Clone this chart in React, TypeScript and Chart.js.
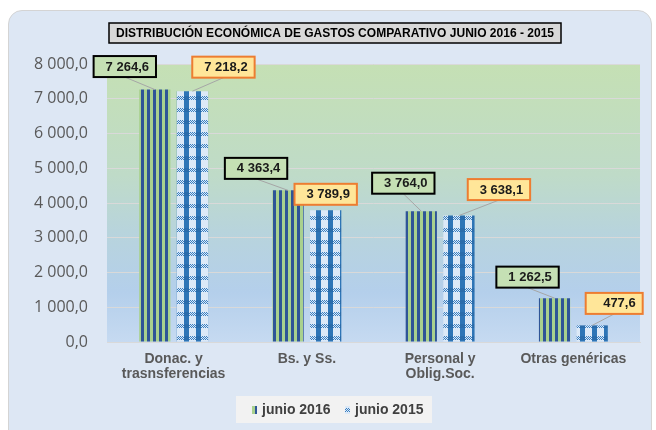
import React, { useEffect, useRef } from "react";
import { Chart, registerables } from "chart.js";

Chart.register(...registerables);

const categories: string[][] = [
  ["Donac. y", "trasnsferencias"],
  ["Bs. y Ss."],
  ["Personal y", "Oblig.Soc."],
  ["Otras genéricas"],
];
const junio2016 = [7264.6, 4363.4, 3764.0, 1262.5];
const junio2015 = [7218.2, 3789.9, 3638.1, 477.6];
const seriesNames = ["junio 2016", "junio 2015"];
const yTicks = [0, 1000, 2000, 3000, 4000, 5000, 6000, 7000, 8000];
const titleText = "DISTRIBUCIÓN ECONÓMICA DE GASTOS COMPARATIVO JUNIO 2016 - 2015";

// label placement (offsets of label centre from bar top centre), layout only
const labelOffsets2016 = [
  [-30, -23],
  [-32, -22],
  [-18, -28],
  [-27, -21],
];
const labelOffsets2015 = [
  [31, -24],
  [0, -16],
  [40, -26],
  [22, -22],
];

function fmt(v: number): string {
  const fixed = v.toFixed(1);
  const [ip, dp] = fixed.split(".");
  const grouped = ip.replace(/\B(?=(\d{3})+(?!\d))/g, " ");
  return grouped + "," + dp;
}

function makeStripe(): CanvasPattern | string {
  const c = document.createElement("canvas");
  c.width = 6;
  c.height = 4;
  const x = c.getContext("2d")!;
  x.fillStyle = "#a9d18e";
  x.fillRect(0, 0, 3, 4);
  x.fillStyle = "#2f5597";
  x.fillRect(3, 0, 3, 4);
  const p = x.createPattern(c, "repeat");
  return p || "#2f5597";
}

function makePlaid(): CanvasPattern | string {
  const c = document.createElement("canvas");
  c.width = 12;
  c.height = 12;
  const x = c.getContext("2d")!;
  x.fillStyle = "#dce9f7";
  x.fillRect(0, 0, 12, 12);
  // horizontal dotted band
  for (let yy = 0; yy < 4; yy++) {
    for (let xx = 0; xx < 12; xx++) {
      if ((xx + yy) % 2 === 0) {
        x.fillStyle = "#3a7fc1";
        x.fillRect(xx, yy, 1, 1);
      }
    }
  }
  // vertical solid band
  x.fillStyle = "#2e75b6";
  x.fillRect(4, 4, 5, 8);
  x.fillStyle = "#2a6cab";
  x.fillRect(4, 0, 5, 4);
  const p = x.createPattern(c, "repeat");
  return p || "#2e75b6";
}

export default function App() {
  const ref = useRef<HTMLCanvasElement | null>(null);

  useEffect(() => {
    if (!ref.current) return;
    const stripe = makeStripe();
    const plaid = makePlaid();

    const custom = {
      id: "custom",
      beforeDraw(chart: any) {
        const { ctx, chartArea: a } = chart;
        ctx.save();
        const g = ctx.createLinearGradient(0, a.top, 0, a.bottom);
        g.addColorStop(0, "#c5e0b4");
        g.addColorStop(0.4, "#bfdbc8");
        g.addColorStop(0.6, "#b8d4dc");
        g.addColorStop(0.82, "#b4cfeb");
        g.addColorStop(1, "#c6daf1");
        ctx.fillStyle = g;
        ctx.fillRect(a.left, a.top, a.right - a.left, a.bottom - a.top);
        ctx.restore();
      },
      afterDatasetsDraw(chart: any) {
        const { ctx } = chart;
        ctx.save();
        ctx.font = 'bold 13px "Liberation Sans", Arial, sans-serif';
        const sets = [
          { values: junio2016, offs: labelOffsets2016, fill: "#c5e0b4", border: "#000000" },
          { values: junio2015, offs: labelOffsets2015, fill: "#ffe699", border: "#ed7d31" },
        ];
        sets.forEach((s, di) => {
          const meta = chart.getDatasetMeta(di);
          meta.data.forEach((bar: any, i: number) => {
            const text = fmt(s.values[i]);
            const tw = ctx.measureText(text).width;
            const w = Math.max(57, tw + 19);
            const h = 21;
            const cx = bar.x + s.offs[i][0];
            const cy = bar.y + s.offs[i][1];
            const left = cx - w / 2;
            const top = cy - h / 2;
            // leader line
            const lx = cx;
            const ly = top + h;
            const dist = Math.hypot(bar.x - lx, bar.y - ly);
            if (dist > 8) {
              ctx.strokeStyle = "#a6a6a6";
              ctx.lineWidth = 1;
              ctx.beginPath();
              ctx.moveTo(lx, ly);
              ctx.lineTo(bar.x, bar.y);
              ctx.stroke();
            }
            ctx.fillStyle = s.fill;
            ctx.fillRect(left, top, w, h);
            ctx.strokeStyle = s.border;
            ctx.lineWidth = 2;
            ctx.strokeRect(left, top, w, h);
            ctx.fillStyle = "#1a1a1a";
            ctx.textAlign = "right";
            ctx.textBaseline = "middle";
            ctx.fillText(text, left + w - 7, cy + 0.5);
          });
        });
        ctx.restore();
      },
      afterDraw(chart: any) {
        const { ctx } = chart;
        ctx.save();
        // title box
        const tl = 109, tt = 23, tw = 452, th = 20;
        ctx.fillStyle = "#d9d9d9";
        ctx.fillRect(tl, tt, tw, th);
        ctx.strokeStyle = "#000000";
        ctx.lineWidth = 1.5;
        ctx.strokeRect(tl, tt, tw, th);
        ctx.fillStyle = "#000000";
        ctx.font = 'bold 13px "Liberation Sans Narrow", "Arial Narrow", "Liberation Sans", sans-serif';
        ctx.textAlign = "center";
        ctx.textBaseline = "middle";
        ctx.fillText(titleText, tl + tw / 2, tt + th / 2 + 0.5, 438);

        // legend
        const ll = 236, lt = 396, lw = 196, lh = 27;
        ctx.fillStyle = "#f2f2f2";
        ctx.fillRect(ll, lt, lw, lh);
        ctx.font = 'bold 14px "Liberation Sans", Arial, sans-serif';
        ctx.textAlign = "left";
        ctx.textBaseline = "middle";
        const items = [
          { x: 252, fill: stripe },
          { x: 345, fill: plaid },
        ];
        items.forEach((it, i) => {
          ctx.fillStyle = it.fill as any;
          ctx.fillRect(it.x, lt + 10, 5, 8);
          ctx.fillStyle = "#404040";
          ctx.fillText(seriesNames[i], it.x + 10, lt + lh / 2 + 0.5);
        });
        ctx.restore();
      },
    };

    const chart = new Chart(ref.current, {
      type: "bar",
      data: {
        labels: categories,
        datasets: [
          {
            label: seriesNames[0],
            data: junio2016,
            backgroundColor: stripe as any,
            borderWidth: 0,
            categoryPercentage: 0.565,
            barPercentage: 0.83,
          },
          {
            label: seriesNames[1],
            data: junio2015,
            backgroundColor: plaid as any,
            borderWidth: 0,
            categoryPercentage: 0.565,
            barPercentage: 0.83,
          },
        ],
      },
      options: {
        responsive: false,
        animation: false,
        devicePixelRatio: 1,
        layout: { padding: { top: 64, right: 16, bottom: 0, left: 0 } },
        plugins: {
          legend: { display: false },
          title: { display: false },
          tooltip: { enabled: false },
        },
        scales: {
          x: {
            grid: { display: false, drawTicks: false },
            border: { display: true, color: "#d9d9d9" },
            ticks: {
              padding: 9,
              color: "#595959",
              font: { family: '"Liberation Sans", Arial, sans-serif', size: 14, weight: "bold", lineHeight: 1.1 },
              maxRotation: 0,
              autoSkip: false,
            },
            afterFit(scale: any) {
              scale.height = 88;
            },
          },
          y: {
            min: 0,
            max: 8000,
            afterBuildTicks(scale: any) {
              scale.ticks = yTicks.map((v) => ({ value: v }));
            },
            grid: { color: "#d9d9d9", drawTicks: false },
            border: { display: false },
            ticks: {
              padding: 19,
              color: "#595959",
              font: { family: '"Open Sans", sans-serif', size: 16 },
              callback: (v: any) => fmt(Number(v)),
            },
            afterFit(scale: any) {
              scale.width = 107;
            },
          },
        },
      },
      plugins: [custom],
    });
    return () => chart.destroy();
  }, []);

  return (
    <div style={{ position: "fixed", left: 0, top: 0, width: 656, height: 430, background: "#ffffff", overflow: "hidden" }}>
      <div
        style={{
          position: "absolute",
          left: 8,
          top: 10,
          width: 642,
          height: 440,
          background: "#dde7f4",
          border: "1.5px solid #d4d4d4",
          borderRadius: 14,
        }}
      />
      <canvas ref={ref} width={656} height={430} style={{ position: "absolute", left: 0, top: 0, width: 656, height: 430 }} />
    </div>
  );
}
